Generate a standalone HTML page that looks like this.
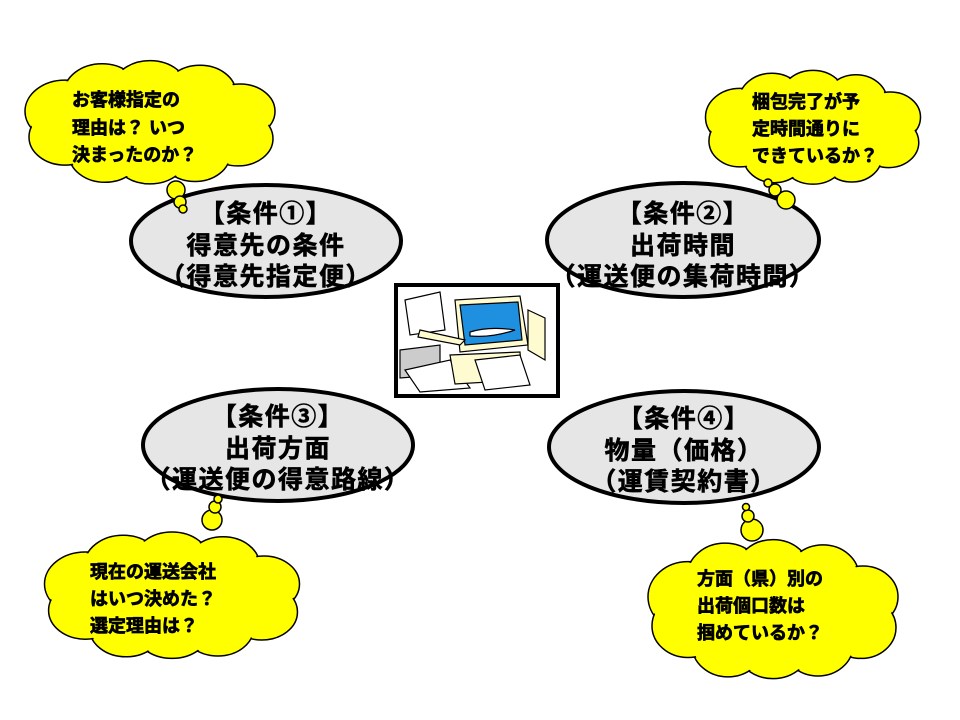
<!DOCTYPE html>
<html><head><meta charset="utf-8"><style>
html,body{margin:0;padding:0;background:#fff;}
svg{display:block;}
text{font-family:"Liberation Sans","Noto Sans CJK JP",sans-serif;font-weight:bold;fill:#000;}
.e{font-size:25px;letter-spacing:1.5px;stroke:#000;stroke-width:0.6px;}
.c{font-size:18px;stroke:#000;stroke-width:0.7px;}
</style></head><body>
<svg width="960" height="720" viewBox="0 0 960 720" xmlns="http://www.w3.org/2000/svg">
<defs>
<g id="cl">
<g stroke="#000" stroke-width="1.5" fill="#ffff00">
<circle cx="-85" cy="-15" r="40" vector-effect="non-scaling-stroke"/><circle cx="-48" cy="-38" r="38" vector-effect="non-scaling-stroke"/><circle cx="0" cy="-42" r="38" vector-effect="non-scaling-stroke"/><circle cx="50" cy="-38" r="36" vector-effect="non-scaling-stroke"/><circle cx="90" cy="-15" r="35" vector-effect="non-scaling-stroke"/><circle cx="88" cy="20" r="35" vector-effect="non-scaling-stroke"/><circle cx="45" cy="40" r="35" vector-effect="non-scaling-stroke"/><circle cx="0" cy="40" r="38" vector-effect="non-scaling-stroke"/><circle cx="-45" cy="40" r="36" vector-effect="non-scaling-stroke"/><circle cx="-85" cy="18" r="36" vector-effect="non-scaling-stroke"/>
</g>
<g fill="#ffff00">
<circle cx="-85" cy="-15" r="38.5"/><circle cx="-48" cy="-38" r="36.5"/><circle cx="0" cy="-42" r="36.5"/><circle cx="50" cy="-38" r="34.5"/><circle cx="90" cy="-15" r="33.5"/><circle cx="88" cy="20" r="33.5"/><circle cx="45" cy="40" r="33.5"/><circle cx="0" cy="40" r="36.5"/><circle cx="-45" cy="40" r="34.5"/><circle cx="-85" cy="18" r="34.5"/>
<ellipse cx="0" cy="0" rx="95" ry="45"/>
</g>
</g>
</defs>
<g transform="translate(150,123) scale(1,0.78)"><use href="#cl"/></g>
<g transform="translate(813,128) scale(0.86,0.72)"><use href="#cl"/></g>
<g transform="translate(172,596) scale(1.02,0.8)"><use href="#cl"/></g>
<g transform="translate(773,610) scale(1,0.88)"><use href="#cl"/></g>
<g fill="#e6e6e6" stroke="#000" stroke-width="4">
<ellipse cx="266" cy="241" rx="135" ry="56"/>
<ellipse cx="683" cy="240" rx="136" ry="57"/>
<ellipse cx="278" cy="445" rx="135" ry="56"/>
<ellipse cx="684" cy="447" rx="135" ry="56"/>
</g>
<g fill="#ffff00" stroke="#000" stroke-width="1.5">
<circle cx="176" cy="190" r="9"/><circle cx="180" cy="202" r="6"/><circle cx="183" cy="209" r="4"/>
<circle cx="786" cy="200" r="9"/><circle cx="775" cy="190" r="6"/><circle cx="768" cy="183" r="4"/>
<circle cx="212" cy="520" r="10"/><circle cx="215" cy="507" r="6"/><circle cx="218" cy="499" r="4"/>
<circle cx="752" cy="530" r="11"/><circle cx="748" cy="516" r="6"/><circle cx="746" cy="507" r="3.5"/>
</g>
<text class="e" text-anchor="middle" x="266" y="222">【条件①】</text>
<text class="e" text-anchor="middle" x="266" y="254">得意先の条件</text>
<text class="e" text-anchor="middle" x="266" y="285">（得意先指定便）</text>
<text class="e" text-anchor="middle" x="683" y="222">【条件②】</text>
<text class="e" text-anchor="middle" x="683" y="254">出荷時間</text>
<text class="e" text-anchor="middle" x="683" y="285">（運送便の集荷時間）</text>
<text class="e" text-anchor="middle" x="278" y="425">【条件③】</text>
<text class="e" text-anchor="middle" x="278" y="457">出荷方面</text>
<text class="e" text-anchor="middle" x="278" y="488">（運送便の得意路線）</text>
<text class="e" text-anchor="middle" x="684" y="427">【条件④】</text>
<text class="e" text-anchor="middle" x="684" y="459">物量（価格）</text>
<text class="e" text-anchor="middle" x="684" y="490">（運賃契約書）</text>
<text class="c" x="72" y="106">お客様指定の</text>
<text class="c" x="72" y="134">理由は？ いつ</text>
<text class="c" x="72" y="161">決まったのか？</text>
<text class="c" x="752" y="108">梱包完了が予</text>
<text class="c" x="752" y="135">定時間通りに</text>
<text class="c" x="752" y="162">できているか？</text>
<text class="c" x="90" y="578">現在の運送会社</text>
<text class="c" x="90" y="605">はいつ決めた？</text>
<text class="c" x="90" y="632">選定理由は？</text>
<text class="c" x="697" y="585">方面（県）別の</text>
<text class="c" x="697" y="612">出荷個口数は</text>
<text class="c" x="697" y="639">掴めているか？</text>
<rect x="396" y="285" width="162" height="111" fill="#fff" stroke="#000" stroke-width="4"/>
<g stroke="#000" stroke-width="1.2">
<path d="M405 300 L440 292 L445 330 L410 335 Z" fill="#fff"/>
<path d="M455 300 L520 296 L528 345 L460 352 Z" fill="#fffbd0"/>
<path d="M460 305 L518 302 L522 340 L465 345 Z" fill="#1f8fe0"/>
<path d="M470 332 Q490 326 515 330 Q492 338 470 336 Z" fill="#fff"/>
<path d="M528 310 L545 318 L545 360 L528 350 Z" fill="#fffbd0"/>
<path d="M420 330 L465 340 L460 345 L418 337 Z" fill="#fffbd0"/>
<path d="M400 350 L440 345 L440 375 L400 378 Z" fill="#ccc"/>
<path d="M405 370 L450 360 L470 388 L420 392 Z" fill="#fff"/>
<path d="M450 355 L520 352 L522 380 L455 384 Z" fill="#fffbd0"/>
<path d="M475 360 L520 355 L530 385 L485 390 Z" fill="#fff"/>
</g>
</svg>
</body></html>
